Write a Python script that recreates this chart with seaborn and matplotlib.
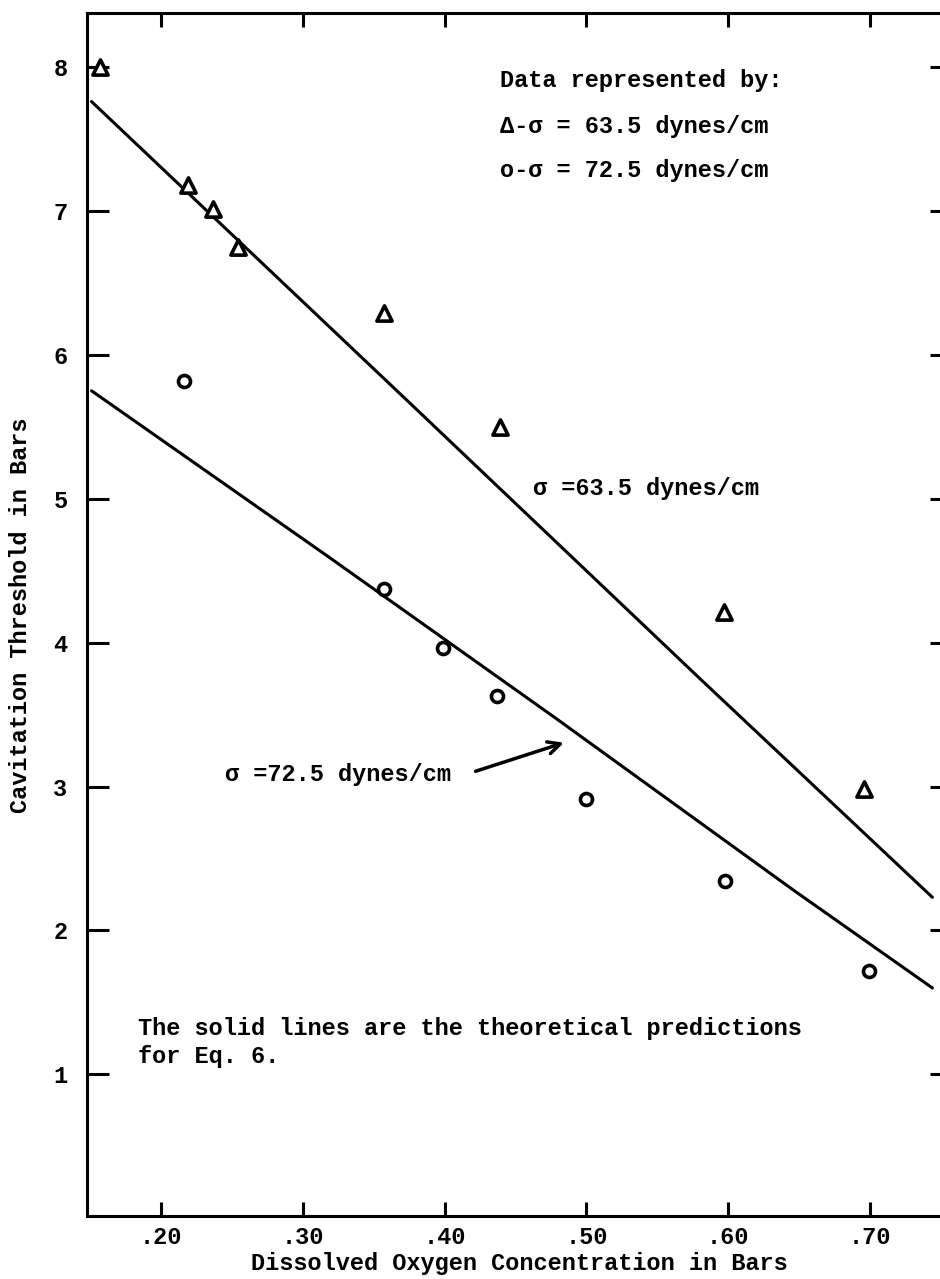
import matplotlib
matplotlib.use("Agg")
import matplotlib.pyplot as plt
import seaborn as sns
import pandas as pd

# ---- data ----
tri_x = [0.157, 0.219, 0.237, 0.254, 0.357, 0.439, 0.597, 0.696]
tri_y = [8.00, 7.18, 7.01, 6.75, 6.29, 5.50, 4.21, 2.98]
circ_x = [0.216, 0.357, 0.399, 0.437, 0.500, 0.598, 0.699]
circ_y = [5.82, 4.37, 3.96, 3.63, 2.91, 2.34, 1.72]
theory635_x = [0.151, 0.376, 0.580, 0.744]
theory635_y = [7.76, 5.66, 3.75, 2.23]
theory725_x = [0.151, 0.319, 0.479, 0.646, 0.744]
theory725_y = [5.75, 4.59, 3.47, 2.28, 1.60]
x_ticks = [0.20, 0.30, 0.40, 0.50, 0.60, 0.70]
x_ticklabels = [".20", ".30", ".40", ".50", ".60", ".70"]
y_ticks = [1, 2, 3, 4, 5, 6, 7, 8]

sns.set_theme(style="white")
plt.rcParams["font.family"] = ["Liberation Mono", "DejaVu Sans Mono"]
plt.rcParams["font.weight"] = "bold"
plt.rcParams["text.color"] = "black"
plt.rcParams["axes.labelcolor"] = "black"
plt.rcParams["axes.labelweight"] = "bold"

W, H = 940, 1279
fig = plt.figure(figsize=(W / 100, H / 100), dpi=100)
left_px, right_px, top_px, bot_px = 87, 952, 13, 1216
ax = fig.add_axes([left_px / W, 1 - bot_px / H, (right_px - left_px) / W, (bot_px - top_px) / H])

x0 = 0.2 - (161 - left_px) / 1418
x1 = 0.2 + (right_px - 161) / 1418
y0 = 8 - (bot_px - 67) / 143.9
y1 = 8 + (67 - top_px) / 143.9

d_tri = pd.DataFrame({"x": tri_x, "y": tri_y})
d_circ = pd.DataFrame({"x": circ_x, "y": circ_y})
d_t1 = pd.DataFrame({"x": theory635_x, "y": theory635_y})
d_t2 = pd.DataFrame({"x": theory725_x, "y": theory725_y})

sns.lineplot(data=d_t1, x="x", y="y", ax=ax, color="black", lw=2.2, sort=False, estimator=None)
sns.lineplot(data=d_t2, x="x", y="y", ax=ax, color="black", lw=2.2, sort=False, estimator=None)
sns.scatterplot(data=d_tri, x="x", y="y", ax=ax, marker="^", s=120, facecolor="white",
                edgecolor="black", linewidth=2.6, zorder=5)
sns.scatterplot(data=d_circ, x="x", y="y", ax=ax, marker="o", s=75, facecolor="white",
                edgecolor="black", linewidth=2.6, zorder=5)

ax.set_xlim(x0, x1)
ax.set_ylim(y0, y1)
ax.set_xticks(x_ticks)
ax.set_xticklabels(x_ticklabels, fontweight="bold")
ax.set_yticks(y_ticks)
ax.set_yticklabels([str(v) for v in y_ticks], fontweight="bold")

for sp in ax.spines.values():
    sp.set_linewidth(2.2)
    sp.set_color("black")
ax.tick_params(axis="x", direction="in", top=True, bottom=True, length=10, width=2.2,
               pad=7, labelsize=17, colors="black")
ax.tick_params(axis="y", direction="in", left=True, right=True, length=16, width=2.2,
               pad=14, labelsize=17, colors="black")

ax.set_xlabel("Dissolved Oxygen Concentration in Bars", fontsize=17, fontweight="bold")
ax.set_ylabel("Cavitation Threshold in Bars", fontsize=17, fontweight="bold")
ax.xaxis.set_label_coords((519 - left_px) / (right_px - left_px), -(1252 - bot_px) / (bot_px - top_px))
ax.yaxis.set_label_coords(-(87 - 32) / (right_px - left_px), (bot_px - 615) / (bot_px - top_px))

fs = 17
def ftext(px, py, s, **kw):
    fig.text(px / W, 1 - py / H, s, fontsize=fs, va="center", ha="left", fontweight="bold", **kw)

ftext(500, 80, "Data represented by:")
ftext(500, 127, "\u0394-\u03c3 = 63.5 dynes/cm")
ftext(500, 170, "o-\u03c3 = 72.5 dynes/cm")
ftext(533, 488, "\u03c3 =63.5 dynes/cm")
ftext(225, 775, "\u03c3 =72.5 dynes/cm")
ftext(138, 1029, "The solid lines are the theoretical predictions")
ftext(138, 1057, "for Eq. 6.")

ax.annotate("", xy=(0.486, 3.31), xytext=(0.420, 3.10),
            arrowprops=dict(arrowstyle="->", lw=2.5, color="black", mutation_scale=22))

fig.savefig("out.png", dpi=100)
